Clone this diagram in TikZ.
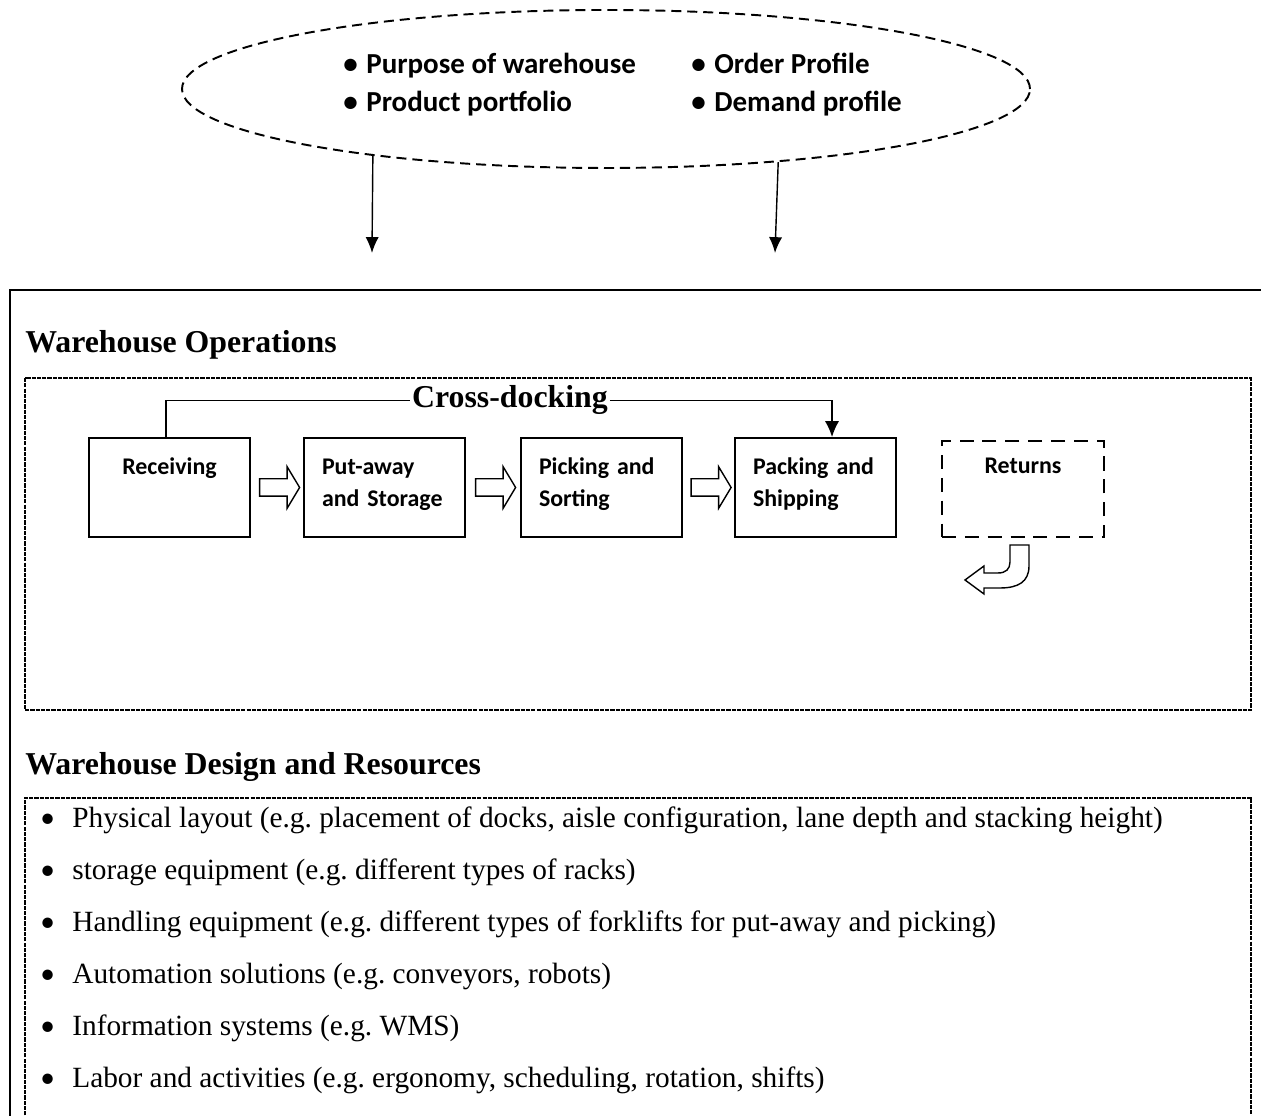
\documentclass[tikz,border=0pt]{standalone}
\usepackage{fontspec}
\setmainfont{Liberation Serif}
\newfontfamily\calibri{Carlito}
\usetikzlibrary{shapes.geometric, shapes.arrows, arrows.meta, calc}
\frenchspacing

\tikzset{
  stage/.style = {draw = black, line width = 1.1pt, text width = 2.5cm, inner xsep = 0.36cm,
                  inner ysep = 0pt, align = left, text height = 0.74cm, text depth = 1.24cm,
                  font = \calibri\bfseries\fontsize{13.6}{18}\selectfont},
  returnbox/.style = {stage, dash pattern = on 8pt off 5pt, align = center, text width = 2.52cm,
                  text height = 0.66cm, text depth = 1.26cm},
  flowarrow/.style = {single arrow, draw = black, fill = white, line width = 0.8pt,
                  minimum height = 0.8cm, single arrow head extend = 0.24cm,
                  single arrow tip angle = 118, inner xsep = 0pt, inner ysep = 0.16cm},
  seclabel/.style = {anchor = base west, inner sep = 0pt, font = \bfseries\fontsize{18.1}{22}\selectfont},
  secbox/.style = {black, line width = 0.8pt, dash pattern = on 2.4pt off 0.6pt},
  prop/.style = {anchor = base west, inner sep = 0pt, font = \calibri\bfseries\fontsize{16.5}{20}\selectfont},
  designitem/.style = {anchor = base west, inner sep = 0pt, font = \fontsize{16.7}{20}\selectfont},
  conn/.style = {black, line width = 0.8pt}
}

\begin{document}
\begin{tikzpicture} [scale = 1]
\useasboundingbox (0, 0) rectangle (25.22, 22.32);
\node[draw = black, ellipse, line width = 1.1pt, dash pattern = on 5.7pt off 3.4pt,
      minimum width = 16.96cm, minimum height = 3.16cm, inner sep = 0pt] (ctx) at (12.12, 20.54) {};
\node[prop] (purpose) at (6.86, 20.84) {\makebox[0.46cm][l]{\textbullet}Purpose of warehouse};
\node[prop] (product) at (6.86, 20.08) {\makebox[0.46cm][l]{\textbullet}Product portfolio};
\node[prop] (order) at (13.82, 20.84) {\makebox[0.46cm][l]{\textbullet}Order Profile};
\node[prop] (demand) at (13.82, 20.08) {\makebox[0.46cm][l]{\textbullet}Demand profile};
\coordinate (opsin1) at (7.44, 17.26);
\coordinate (opsin2) at (15.50, 17.26);
\draw[conn, -{Latex[length = 9pt, width = 7.5pt]}] (ctx.196) -- (opsin1);
\draw[conn, -{Latex[length = 9pt, width = 7.5pt]}] (ctx.337) -- (opsin2);
\draw[black, line width = 1.3pt] (25.5, 16.52) -- (0.20, 16.52) -- (0.20, -0.2);
\node[seclabel] (ops) at (0.50, 15.26) {Warehouse Operations};
\draw[secbox] (0.50, 14.76) rectangle (25.02, 8.12);
\node[stage, align = center] (recv) at (3.39, 12.57) {Receiving};
\node[stage] (put) at (7.69, 12.57) {Put-away\\and Storage};
\node[stage] (pick) at (12.03, 12.57) {Picking and\\Sorting};
\node[stage] (pack) at (16.31, 12.57) {Packing and\\Shipping};
\node[returnbox] (ret) at (20.46, 12.54) {Returns};
\node[flowarrow] (flow1) at ($(recv.east)!0.5!(put.west)$) {};
\node[flowarrow] (flow2) at ($(put.east)!0.5!(pick.west)$) {};
\node[flowarrow] (flow3) at ($(pick.east)!0.5!(pack.west)$) {};
\node[anchor = base, inner xsep = 1pt, font = \bfseries\fontsize{18.1}{22}\selectfont] (cross) at (10.20, 14.16) {Cross-docking};
\draw[conn] ($(recv.north) + (-0.07, 0)$) |- (cross.west);
\draw[conn, -{Latex[length = 9pt, width = 8pt]}] (cross.east) -| ($(pack.north) + (0.33, 0)$);
\draw[conn, fill = white] (20.58, 11.42) -- (20.58, 11.00)
  .. controls (20.58, 10.68) and (20.36, 10.56) .. (20.00, 10.56)
  -- (19.68, 10.56) -- (19.68, 10.44) -- (19.30, 10.72) -- (19.68, 11.00) -- (19.68, 10.86)
  -- (19.96, 10.86) .. controls (20.12, 10.86) and (20.20, 10.94) .. (20.20, 11.08)
  -- (20.20, 11.42) -- cycle;
\node[seclabel] (design) at (0.50, 6.82) {Warehouse Design and Resources};
\draw[secbox] (0.50, -0.2) -- (0.50, 6.36) -- (25.02, 6.36) -- (25.02, -0.2);
\node[designitem] (layout) at (0.80, 5.76) {\makebox[0.64cm][l]{\calibri\textbullet}Physical layout (e.g. placement of docks, aisle configuration, lane depth and stacking height)};
\node[designitem] (storage) at (0.80, 4.72) {\makebox[0.64cm][l]{\calibri\textbullet}storage equipment (e.g. different types of racks)};
\node[designitem] (handling) at (0.80, 3.68) {\makebox[0.64cm][l]{\calibri\textbullet}Handling equipment (e.g. different types of forklifts for put-away and picking)};
\node[designitem] (automation) at (0.80, 2.64) {\makebox[0.64cm][l]{\calibri\textbullet}Automation solutions (e.g. conveyors, robots)};
\node[designitem] (infosys) at (0.80, 1.60) {\makebox[0.64cm][l]{\calibri\textbullet}Information systems (e.g. WMS)};
\node[designitem] (labor) at (0.80, 0.56) {\makebox[0.64cm][l]{\calibri\textbullet}Labor and activities (e.g. ergonomy, scheduling, rotation, shifts)};
\end{tikzpicture}
\end{document}
